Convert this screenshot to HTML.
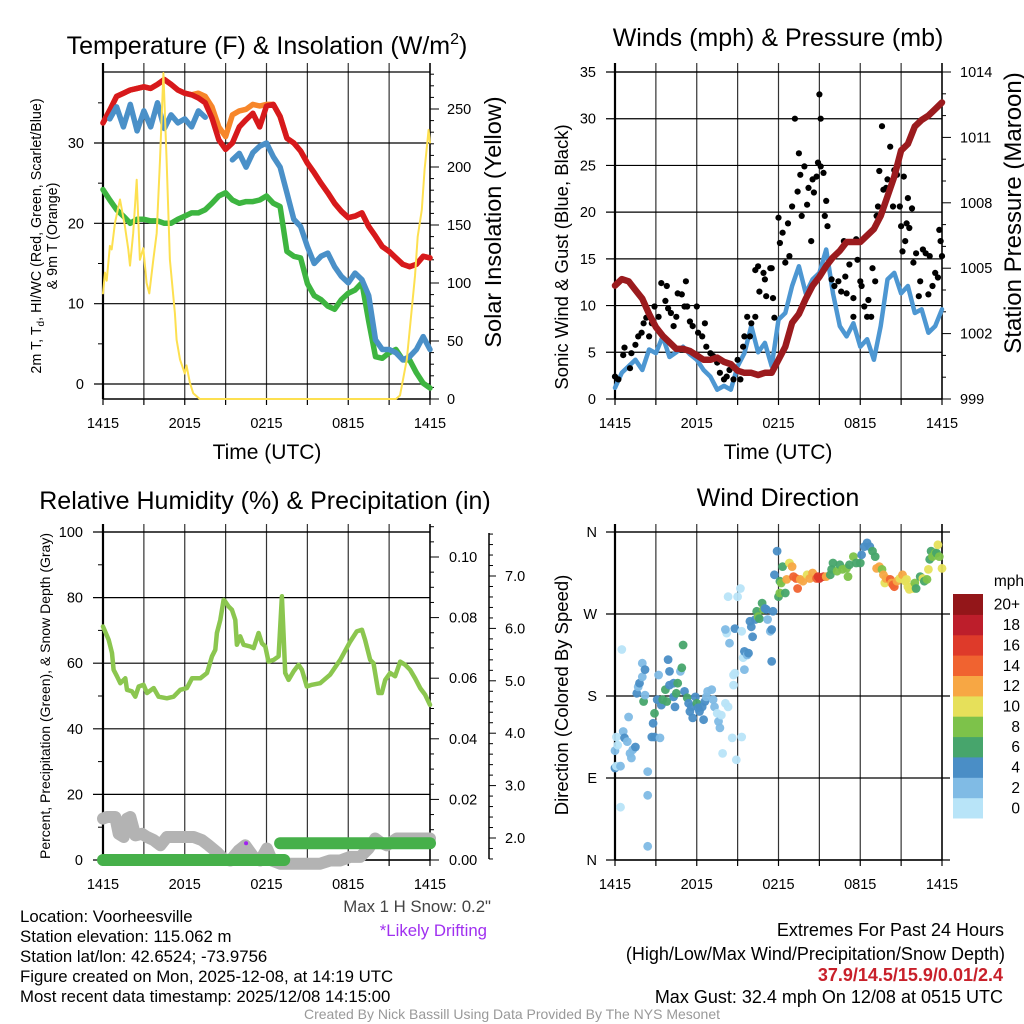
<!DOCTYPE html>
<html><head><meta charset="utf-8"><style>
html,body{margin:0;padding:0;background:#fff;}
svg{display:block;font-family:"Liberation Sans",Arial,sans-serif;}
</style></head><body>
<svg id="chart" width="1024" height="1024" viewBox="0 0 1024 1024" xmlns="http://www.w3.org/2000/svg">
<rect x="0" y="0" width="1024" height="1024" fill="#fff"/>
<text x="267" y="54" font-size="25" text-anchor="middle">Temperature (F) &amp; Insolation (W/m<tspan dy="-10" font-size="16">2</tspan><tspan dy="10">)</tspan></text>
<text x="778" y="46" font-size="25" text-anchor="middle">Winds (mph) &amp; Pressure (mb)</text>
<text x="265" y="509" font-size="25" text-anchor="middle">Relative Humidity (%) &amp; Precipitation (in)</text>
<text x="778" y="506" font-size="25" text-anchor="middle">Wind Direction</text>
<text transform="translate(41,236) rotate(-90)" font-size="14.3" text-anchor="middle">2m T, T<tspan font-size="10" dy="3">d</tspan><tspan dy="-3">, HI/WC (Red, Green, Scarlet/Blue)</tspan></text>
<text transform="translate(57,236) rotate(-90)" font-size="14.3" text-anchor="middle">&amp; 9m T (Orange)</text>
<text transform="translate(501,222) rotate(-90)" font-size="23.5" text-anchor="middle">Solar Insolation (Yellow)</text>
<text transform="translate(568,257) rotate(-90)" font-size="18.5" text-anchor="middle">Sonic Wind &amp; Gust (Blue, Black)</text>
<text transform="translate(1021,213) rotate(-90)" font-size="24" text-anchor="middle">Station Pressure (Maroon)</text>
<text transform="translate(50,696) rotate(-90)" font-size="14" text-anchor="middle">Percent, Precipitation (Green), &amp; Snow Depth (Gray)</text>
<text transform="translate(568,695) rotate(-90)" font-size="18.5" text-anchor="middle">Direction (Colored By Speed)</text>
<text x="267" y="459" font-size="21" text-anchor="middle">Time (UTC)</text>
<text x="778" y="459" font-size="21" text-anchor="middle">Time (UTC)</text>
<text x="491" y="912" font-size="16.8" text-anchor="end" fill="#444">Max 1 H Snow: 0.2"</text>
<text x="487" y="936" font-size="16.8" text-anchor="end" fill="#a030f0">*Likely Drifting</text>
<g font-size="16.8">
<text x="20" y="922">Location: Voorheesville</text>
<text x="20" y="942">Station elevation: 115.062 m</text>
<text x="20" y="962">Station lat/lon: 42.6524; -73.9756</text>
<text x="20" y="982">Figure created on Mon, 2025-12-08, at 14:19 UTC</text>
<text x="20" y="1002">Most recent data timestamp: 2025/12/08 14:15:00</text>
</g>
<g font-size="18" text-anchor="end">
<text x="1004" y="936">Extremes For Past 24 Hours</text>
<text x="1005" y="960">(High/Low/Max Wind/Precipitation/Snow Depth)</text>
<text x="1003" y="981" fill="#c8202a" font-weight="bold">37.9/14.5/15.9/0.01/2.4</text>
<text x="1003" y="1003">Max Gust: 32.4 mph On 12/08 at 0515 UTC</text>
</g>
<text x="512" y="1019" font-size="14" text-anchor="middle" fill="#999">Created By Nick Bassill Using Data Provided By The NYS Mesonet</text>
</svg>
<script>
// ---------- DATA ----------
const xTickLabels = ['1415','2015','0215','0815','1415'];
const halfHours = [];
for (let i = 0; i <= 48; i++) halfHours.push(i * 0.5);
// Panel 1 (F)
const tempRed = [32.5,34.1,35.8,36.2,36.6,36.8,37,36.8,37.3,37.9,37.3,36.6,36.2,36,35.6,35,33.1,30.4,29.2,30,32,32.9,33.7,32,34.6,34.8,33.3,30.6,30,29,27.5,26.3,25,23.8,22.5,21.5,20.7,20.9,21.3,19.6,18.4,17.1,16.5,15.7,14.9,14.6,14.9,15.9,15.7];
const temp9mOrange = [32.5,34.1,35.8,36.2,36.6,36.8,37,36.8,37.3,37.9,37.3,36.6,36.2,36,36.2,35.8,34.5,32,30.8,33.5,34,34.2,34.8,34.6,34.8,34.8,33.3,30.6,30,29,27.5,26.3,25,23.8,22.5,21.5,20.7,20.9,21.3,19.6,18.4,17.1,16.5,15.7,14.9,14.6,14.9,15.9,15.7];
const windChillBlue = [null,33,34.5,32,34.8,31.5,34,32,35,31.8,33.5,32.5,33,32,34,33.2,null,null,null,27.9,28.7,27,28.8,29.6,30,28.3,27,23.8,20.5,19.6,17.1,15,15.9,16.3,14.6,13.4,12.6,13.8,13,11,5.5,4.3,4.3,3.9,3,3.4,4.3,5.9,4.3];
const dewGreen = [24.2,22.9,21.7,20.9,20,20.5,20.5,20.3,20.3,20,20,20.5,20.9,21.3,21.3,21.7,22.5,23.4,23.8,22.9,22.5,22.7,22.7,22.9,23.4,22.5,22.1,16.5,15.9,15.7,12.5,11,10.5,9.7,9.3,10.5,11.3,11.7,12.6,7.8,3.4,3.2,3.9,4.3,3,3,1.4,0.1,-0.5];
const solarTimes = [0,0.15,0.27,0.51,0.64,0.88,1.25,1.61,1.86,1.98,2.22,2.47,2.71,2.96,3.2,3.4,3.69,3.94,4.18,4.43,4.67,4.91,5.28,5.4,5.65,6.0,6.13,6.38,6.62,7.1,21.5,21.8,22.3,22.9,23.1,23.4,23.6,23.9,24];
const solarValues = [91,109,102,132,129,152,172,149,129,115,143,189,120,130,100,91,120,143,206,281,206,120,74,51,34,22,29,14,5,0,0,3,34,106,140,163,198,232,221];
const p1LeftTicks = [0,10,20,30];
const p1RightTicks = [0,50,100,150,200,250];
// Panel 2
const windBlue = [1.2,2.8,3.5,4.2,3.1,5.3,4.9,6.7,4.5,5,5.6,4.8,4.2,3.1,2.4,1,1.4,1,3.5,4.9,7.8,5,6,3.5,8.5,9.2,12.1,14.2,11.3,12.8,13.5,16,11.3,7.8,6.7,8.1,5.6,6.4,4.2,7.8,12.8,13.5,11.3,12.1,9.2,9.6,7.1,7.8,9.6];
const pressure = [1004.2,1004.5,1004.4,1004,1003.6,1002.9,1002.3,1001.9,1001.6,1001.3,1001.3,1001.2,1001,1000.8,1000.8,1000.9,1000.7,1000.6,1000.3,1000.2,1000.2,1000.1,1000.2,1000.2,1000.8,1001.4,1002.5,1002.9,1003.6,1004.2,1004.6,1005.1,1005.5,1005.8,1006.2,1006.2,1006.2,1006.5,1006.8,1007.4,1008.3,1009.2,1010.4,1010.7,1011.5,1011.8,1012,1012.3,1012.6];
const gustTimes = [0,0.25,0.6,0.7,1.1,1.2,1.5,1.7,1.95,2.1,2.3,2.5,2.7,2.9,3.2,3.4,3.7,3.8,3.9,4.1,4.3,4.5,4.6,4.9,5.1,5.2,5.3,5.5,5.7,6,6.1,6.4,6.6,6.7,7,7.2,7.5,7.7,8,8.2,8.4,8.7,9,9.2,9.4,9.5,9.7,9.9,10,10.3,10.3,10.5,10.6,10.9,11,11.1,11.4,11.5,11.6,11.7,12,12.1,12.3,12.5,12.7,12.8,13,13.2,13.4,13.5,13.6,13.7,13.9,14.1,14.2,14.4,14.5,14.6,14.8,14.9,15,15.1,15.1,15.3,15.4,15.5,15.6,15.9,16.1,16.4,16.6,16.8,16.9,17,17.2,17.5,17.5,17.7,17.8,18,18.1,18.3,18.5,18.6,18.8,18.9,19.1,19.2,19.3,19.4,19.6,19.7,19.9,20,20.2,20.4,20.5,20.7,20.9,21,21.1,21.2,21.3,21.4,21.5,21.6,21.8,21.9,22.1,22.3,22.4,22.6,22.8,23,23.1,23.3,23.5,23.7,23.8,23.9,24];
const gustValues = [2.4,2.1,4.7,5.5,3.3,4.9,5.8,6.7,7.1,8.1,8.7,6.7,8.1,9.9,8.8,12.4,10.5,12.1,9.7,9.2,7.8,8.8,11.3,11.2,9.9,12.6,9.9,8.3,7.8,9.9,7.1,6.7,8.1,5.6,4.9,4.6,3.9,2.8,2.1,2.4,3.1,2.1,4.2,2.1,5.6,6.7,8.8,6.7,8.1,8.8,13.8,14.2,11.5,13.5,12.8,11,14,14,10.8,8.7,19.4,16.7,17.8,14.6,18.8,15.3,20.6,30,22.2,26.3,24,19.6,24.9,20.8,22.6,16.9,23.5,22.1,23.8,25.3,32.6,24.9,30,24.2,19.6,21.2,18.5,12.8,12.1,12.6,11.5,16.9,13.1,11.3,14.4,10.8,8.8,17.1,14.9,12.6,12.1,9.9,8.8,10.6,8.8,14,12.6,19.6,20.6,24.4,29.2,22.4,22.6,23.5,27,20.6,24.5,24,20.6,18.5,15.8,23.8,16.9,18.8,21.5,18.3,20.4,14.6,15.6,11,12.6,16,15.6,11.2,15.3,12.1,13.5,13,18.1,16.9,15.3];
const p2LeftTicks = [0,5,10,15,20,25,30,35];
const p2RightTicks = [999,1002,1005,1008,1011,1014];
// Panel 3
const rhTimes = [0,0.42,0.66,0.78,1.03,1.27,1.64,1.76,2.13,2.37,2.62,2.98,3.23,3.72,4.08,4.69,5.18,5.67,6.16,6.53,7.14,7.63,8.0,8.24,8.36,8.61,8.85,8.97,9.22,9.46,9.71,9.83,10.07,10.32,10.81,11.05,11.42,11.66,11.91,12.15,12.52,12.89,13.13,13.25,13.37,13.62,13.99,14.35,14.6,14.96,15.33,15.94,16.67,17.41,18.14,18.63,19.0,19.24,19.61,19.85,20.22,20.46,20.71,21.08,21.44,21.81,22.18,22.54,22.91,23.28,23.64,24];
const rhValues = [71.2,67.1,63.1,58.0,56.0,53.9,55.4,51.9,51.4,49.8,52.9,53.4,50.9,52.4,49.8,49.3,49.8,51.9,52.4,55.4,55.4,57.0,62.1,64.1,69.2,73.2,79.3,78.8,77.3,76.3,73.2,65.6,68.2,65.6,65.1,64.6,69.2,66.1,65.1,60.5,61.0,62.1,80.4,69.2,57.0,54.9,57.5,59.5,58.0,52.9,53.4,53.9,56.5,61.0,66.6,69.7,70.2,67.1,61.0,60.0,50.9,50.9,54.9,57.0,56.0,60.5,59.5,58.0,55.4,52.4,50.4,47.3];
const precipSegStart = [0,13.0];
const precipSegEnd = [13.3,24];
const precipSegValue = [0,0.0055];
const snowTimes = [0,0.29,0.9,1.15,1.52,1.76,2.0,2.37,2.86,3.23,3.72,4.21,4.69,5.67,6.65,7.26,7.75,8.36,8.85,9.34,9.95,10.44,11.05,11.54,12.03,12.4,13.0,13.5,14.23,15.2,15.94,16.67,17.41,18.14,18.88,19.49,19.98,20.34,20.83,21.56,22.3,23.28,24];
const snowDepth = [2.37,2.40,2.40,2.08,2.02,2.37,2.40,2.05,2.08,2.02,1.96,1.86,2.02,2.02,2.02,1.96,1.86,1.73,1.6,1.57,1.76,1.86,1.64,1.57,1.8,1.57,1.51,1.51,1.51,1.51,1.51,1.57,1.57,1.64,1.64,1.8,1.99,1.92,1.86,1.99,1.99,1.99,1.99];
const driftTime = [10.5];
const driftDepth = [1.9];
const p3LeftTicks = [0,20,40,60,80,100];
const p3PrecipTicks = [0,0.02,0.04,0.06,0.08,0.10];
const p3PrecipLabels = ['0.00','0.02','0.04','0.06','0.08','0.10'];
const p3SnowTicks = [2,3,4,5,6,7];
const p3SnowLabels = ['2.0','3.0','4.0','5.0','6.0','7.0'];
// Panel 4
const dirTimes = [0,0,0.1,0.4,0.5,0.1,0.2,0.6,0.7,0.9,1.0,1.1,1.2,1.3,1.5,1.6,1.7,1.8,2.0,2.0,2.2,2.1,2.2,2.4,2.4,2.4,0.4,2.7,2.8,2.9,2.9,3.1,3.2,3.3,3.4,3.5,3.7,3.8,3.9,4.0,4.0,4.3,4.3,4.4,4.5,4.6,4.8,4.9,5.0,5.1,5.3,5.4,5.5,5.6,5.7,5.9,6.0,6.1,6.2,6.4,6.5,6.6,6.7,6.8,7.1,7.2,7.3,7.5,7.6,7.7,7.8,7.9,8.1,8.3,8.4,8.6,8.7,8.7,8.8,8.2,8.1,8.3,8.8,8.9,9.0,9.2,9.3,9.3,9.4,9.5,9.5,9.7,9.8,9.9,10.0,10.1,10.3,10.4,10.5,10.6,10.8,10.9,11.0,11.1,11.2,11.4,11.5,11.6,11.5,11.7,11.9,12.0,12.1,12.1,12.2,12.3,12.5,12.6,12.8,13.0,13.1,13.3,13.4,13.6,13.8,14.1,14.3,14.5,14.8,14.9,15.0,15.3,15.5,15.8,15.9,16.0,16.3,16.5,16.7,17.0,17.1,17.2,17.5,17.7,18.0,18.1,18.3,18.5,18.7,18.9,19.1,19.2,19.4,19.6,19.7,19.8,19.9,20.2,20.3,20.4,20.5,20.7,20.9,21.1,21.3,21.4,21.5,21.6,21.8,21.9,22.0,22.1,22.4,22.6,22.7,22.9,23.0,23.1,23.2,23.3,23.5,23.6,23.7,23.8,24.0];
const dirDegrees = [120,101,103,103,231,135,126,141,134,130,157,117,112,121,124,183,190,194,201,216,209,174,181,97,71,15,58,135,150,161,135,176,203,134,170,176,187,174,220,207,192,194,179,168,183,194,207,211,236,185,178,172,163,168,156,179,172,167,163,168,154,174,179,185,187,176,168,161,152,145,159,117,172,168,238,134,192,203,205,249,253,289,254,110,289,298,135,251,222,209,229,225,227,262,256,245,264,273,267,265,282,275,276,275,264,251,253,273,218,313,339,289,293,306,304,322,293,308,326,322,311,309,298,308,306,313,309,315,309,311,309,311,311,313,319,326,317,324,319,320,311,324,333,326,326,335,344,348,344,339,333,320,322,319,313,304,309,308,304,302,300,306,309,313,306,308,300,297,300,298,304,298,311,309,306,308,319,330,339,333,337,337,346,333,320];
const dirSpeeds = [3,5,1,3,1,1,1,3,5,3,3,3,3,3,5,5,3,5,3,3,5,7,3,3,3,3,1,5,5,7,5,5,3,3,5,7,7,7,5,5,5,5,5,5,7,7,3,7,7,5,7,5,5,5,5,5,7,5,5,5,5,5,3,3,3,3,3,1,3,3,1,1,1,1,3,1,1,1,1,1,3,1,5,1,1,1,1,1,1,3,5,3,5,5,5,5,5,7,9,7,7,9,5,5,3,3,5,5,5,5,5,7,9,7,9,7,7,13,11,13,15,15,15,13,13,11,13,13,15,17,17,17,13,7,7,7,9,7,9,9,9,7,9,7,7,5,5,5,5,7,7,13,13,9,13,11,13,15,13,15,15,13,11,13,11,11,11,11,11,11,9,7,7,11,7,9,11,7,7,9,9,7,11,9,11];
const dirTickValues = [0,90,180,270,360];
const dirTickLabels = ['N','E','S','W','N'];
const speedBinLabels = ['0','2','4','6','8','10','12','14','16','18','20+'];
const speedBinColors = ['#b8e4f8','#80bbe5','#4a8ec6','#47a56c','#7dc24a','#e6e05a','#f7a744','#f06330','#de3a2a','#bd1e2b','#931619'];

// ---------- HELPERS ----------
const NS = 'http://www.w3.org/2000/svg';
const svg = document.getElementById('chart');
function mk(tag, attrs, parent) {
  const e = document.createElementNS(NS, tag);
  for (const k in attrs) e.setAttribute(k, attrs[k]);
  (parent || svg).appendChild(e);
  return e;
}
function lin(d0, d1, r0, r1) { return v => r0 + (v - d0) * (r1 - r0) / (d1 - d0); }
function seg(x1, y1, x2, y2, w, c, g, name) {
  const e = mk('line', {x1: x1, y1: y1, x2: x2, y2: y2, stroke: c, 'stroke-width': w}, g);
  
  
  return e;
}
function txt(x, y, s, size, anchor, g, name, fill) {
  const e = mk('text', {x: x, y: y, 'font-size': size, 'text-anchor': anchor, fill: fill || '#000'}, g);
  e.textContent = s;
  
  
  return e;
}
function pathD(ts, vs, X, Y) {
  let d = '', pen = false;
  for (let i = 0; i < ts.length; i++) {
    if (vs[i] === null) { pen = false; continue; }
    d += (pen ? 'L' : 'M') + X(ts[i]).toFixed(1) + ' ' + Y(vs[i]).toFixed(1);
    pen = true;
  }
  return d;
}
function series(ts, vs, X, Y, color, w, g, name) {
  const e = mk('path', {d: pathD(ts, vs, X, Y), fill: 'none', stroke: color, 'stroke-width': w, 'stroke-linejoin': 'round', 'stroke-linecap': 'round'}, g);
  
  
  return e;
}
function frame(p, g) {
  for (let t = 0; t <= 24; t += 3) {
    const x = p.X(t);
    seg(x, p.gTop, x, p.yBot, 1.2, '#333', g, 'x-grid-line');
    seg(x, p.yBot, x, p.yBot + 6, 1.2, '#000', g, 'x-tick');
  }
  xTickLabels.forEach((s, i) => txt(p.X(i * 6), p.yBot + 29, s, 14.5, 'middle', g, 'x-tick-label'));
  seg(p.x0, p.yTop, p.x1, p.yTop, 1.2, '#000', g, 'plot-top-border');
  seg(p.x0, p.yBot, p.x1, p.yBot, 1.5, '#000', g, 'plot-bottom-border');
  seg(p.x0, p.gTop, p.x0, p.yBot, 2.2, '#000', g, 'left-axis-line');
  seg(p.x1, p.gTop, p.x1, p.yBot, 1.5, '#000', g, 'right-axis-line');
}

// ---------- PANEL 1 ----------
(function () {
  const g = mk('g', {});
  
  
  const p = {x0: 103, x1: 430, yTop: 72, yBot: 399, gTop: 63};
  p.X = lin(0, 24, p.x0, p.x1);
  const Y = lin(0, 30, 384, 143);
  const Y2 = lin(0, 250, 399, 109);
  frame(p, g);
  p1LeftTicks.forEach(v => {
    seg(p.x0 - 9, Y(v), p.x1, Y(v), 1.2, '#000', g, 'y-grid-line');
    txt(p.x0 - 19, Y(v) + 5, String(v), 14.5, 'end', g, 'left-tick-label');
  });
  for (let v = 5; v <= 35; v += 10) seg(p.x0 - 5, Y(v), p.x0, Y(v), 1, '#000', g, 'left-minor-tick');
  for (let v = 0; v <= 280; v += 10) {
    const major = v % 50 === 0;
    seg(p.x1, Y2(v), p.x1 + (major ? 9 : 4), Y2(v), 1, '#000', g, 'right-tick');
  }
  p1RightTicks.forEach(v => txt(p.x1 + 17, Y2(v) + 5, String(v), 14.5, 'start', g, 'right-tick-label'));
  series(halfHours, dewGreen, p.X, Y, '#3db540', 5.5, g, 'dewpoint-line');
  series(halfHours, temp9mOrange, p.X, Y, '#f7862a', 5.5, g, 'temp-9m-line');
  series(halfHours, tempRed, p.X, Y, '#d7191c', 5.5, g, 'temp-2m-line');
  series(halfHours, windChillBlue, p.X, Y, '#4a90c8', 5.5, g, 'wind-chill-line');
  series(solarTimes, solarValues, p.X, Y2, '#fde050', 2, g, 'solar-insolation-line');
})();

// ---------- PANEL 2 ----------
(function () {
  const g = mk('g', {});
  
  
  const p = {x0: 615, x1: 942, yTop: 72, yBot: 399, gTop: 63};
  p.X = lin(0, 24, p.x0, p.x1);
  const Y = lin(0, 35, 399, 72);
  const Y2 = lin(999, 1014, 399, 72);
  frame(p, g);
  p2LeftTicks.forEach(v => {
    seg(p.x0 - 9, Y(v), p.x1, Y(v), 1.2, '#000', g, 'y-grid-line');
    txt(p.x0 - 19, Y(v) + 5, String(v), 14.5, 'end', g, 'left-tick-label');
  });
  for (let v = 999; v <= 1014; v += 1) {
    const major = (v - 999) % 3 === 0;
    seg(p.x1, Y2(v), p.x1 + (major ? 9 : 4), Y2(v), 1, '#000', g, 'right-tick');
  }
  p2RightTicks.forEach(v => txt(p.x1 + 18, Y2(v) + 5, String(v), 14.5, 'start', g, 'right-tick-label'));
  series(halfHours, windBlue, p.X, Y, '#4d97d2', 4.5, g, 'sonic-wind-line');
  gustTimes.forEach((t, i) => {
    const c = mk('circle', {cx: p.X(t).toFixed(1), cy: Y(gustValues[i]).toFixed(1), r: 3.1, fill: '#000'}, g);
    
    
  });
  series(halfHours, pressure, p.X, Y2, '#9b1b1e', 6.5, g, 'pressure-line');
})();

// ---------- PANEL 3 ----------
(function () {
  const g = mk('g', {});
  
  
  const p = {x0: 103, x1: 430, yTop: 532, yBot: 860, gTop: 524};
  p.X = lin(0, 24, p.x0, p.x1);
  const Y = lin(0, 100, 860, 532);
  const Yp = lin(0, 0.1, 860, 557);
  const Ys = lin(2, 7, 838, 576);
  frame(p, g);
  p3LeftTicks.forEach(v => {
    seg(p.x0 - 10, Y(v), p.x1, Y(v), 1.2, '#000', g, 'y-grid-line');
    txt(p.x0 - 20, Y(v) + 5, String(v), 14.5, 'end', g, 'left-tick-label');
  });
  for (let v = 10; v <= 90; v += 20) seg(p.x0 - 5, Y(v), p.x0, Y(v), 1, '#000', g, 'left-minor-tick');
  for (let k = 0; k <= 22; k++) {
    const v = k * 0.005;
    seg(p.x1, Yp(v), p.x1 + (k % 4 === 0 ? 9 : 4), Yp(v), 1, '#000', g, 'precip-tick');
  }
  p3PrecipTicks.forEach((v, i) => txt(p.x1 + 19, Yp(v) + 5, p3PrecipLabels[i], 14.5, 'start', g, 'precip-tick-label'));
  const ax = 489;
  seg(ax, 533, ax, 859, 1.5, '#000', g, 'snow-axis-line');
  for (let k = 0; k <= 31; k++) {
    const v = 1.6 + k * 0.2;
    if (Ys(v) < 533 || Ys(v) > 859) continue;
    const major = Math.abs(v - Math.round(v)) < 0.01;
    seg(ax, Ys(v), ax + (major ? 7 : 4), Ys(v), 1, '#000', g, 'snow-tick');
  }
  p3SnowTicks.forEach((v, i) => txt(ax + 16, Ys(v) + 5, p3SnowLabels[i], 14.5, 'start', g, 'snow-tick-label'));
  series(snowTimes, snowDepth, p.X, Ys, '#b3b3b3', 12, g, 'snow-depth-line');
  precipSegStart.forEach((t, i) => {
    series([t, precipSegEnd[i]], [precipSegValue[i], precipSegValue[i]], p.X, Yp, '#46b04a', 12, g, 'precip-bar');
  });
  series(rhTimes, rhValues, p.X, Y, '#8bc64f', 4.5, g, 'relative-humidity-line');
  driftTime.forEach((t, i) => {
    const c = mk('circle', {cx: p.X(t), cy: Ys(driftDepth[i]), r: 2, fill: '#a020f0'}, g);
    
    
  });
})();

// ---------- PANEL 4 ----------
(function () {
  const g = mk('g', {});
  
  
  const p = {x0: 615, x1: 942, yTop: 532, yBot: 860, gTop: 524};
  p.X = lin(0, 24, p.x0, p.x1);
  const Y = lin(0, 360, 860, 532);
  frame(p, g);
  dirTickValues.forEach((v, i) => {
    seg(p.x0 - 9, Y(v), p.x1 + 8, Y(v), 1.2, '#000', g, 'y-grid-line');
    txt(p.x0 - 18, Y(v) + 5, dirTickLabels[i], 14.5, 'end', g, 'direction-tick-label');
  });
  dirTimes.forEach((t, i) => {
    const bin = Math.min(10, Math.floor(dirSpeeds[i] / 2));
    const c = mk('circle', {cx: p.X(t).toFixed(1), cy: Y(dirDegrees[i]).toFixed(1), r: 4.4, fill: speedBinColors[bin], 'fill-opacity': 0.95}, g);
    
    
  });
  const cb = mk('g', {});
  
  
  const top = 594, bot = 818, h = (bot - top) / speedBinLabels.length;
  txt(1024, 586, 'mph', 15.5, 'end', cb, 'colorbar-title');
  speedBinLabels.forEach((s, i) => {
    const y = bot - (i + 1) * h;
    const r = mk('rect', {x: 953, y: y.toFixed(1), width: 30, height: (h + 0.5).toFixed(1), fill: speedBinColors[i]}, cb);
    
    
    txt(1020, y + h / 2 + 5.5, s, 15.5, 'end', cb, 'colorbar-label');
  });
})();
</script>
</body></html>
